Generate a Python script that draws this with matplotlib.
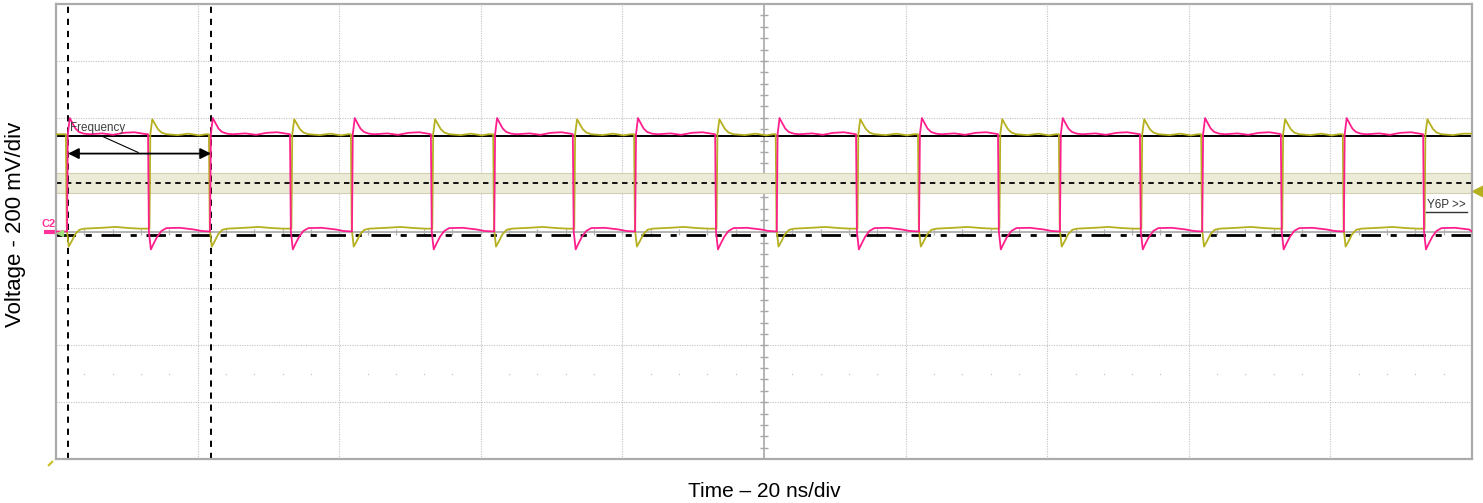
import numpy as np
import matplotlib
matplotlib.use("Agg")
import matplotlib.pyplot as plt

plt.rcParams['font.family'] = ['Liberation Sans', 'DejaVu Sans']

# 时间 ns, 电压 mV (200 mV/div, 20 ns/div)
pink_rise_ns = [1.55, 21.75, 41.8, 61.9, 81.8, 101.8, 121.9, 141.8, 161.9, 181.9]
pink_fall_ns = [13.0, 33.05, 52.95, 73.0, 93.1, 113.0, 133.05, 153.1, 173.0, 193.1]
yel_rise_ns = [13.2, 33.25, 53.15, 73.2, 93.3, 113.2, 133.25, 153.3, 173.2, 193.3]
yel_fall_ns = [1.4, 21.6, 41.65, 61.75, 81.65, 101.65, 121.75, 141.65, 161.75, 181.75]

pink_hi, pink_lo = 342, 0
yel_hi, yel_lo = 342, 10

# 边沿形状 (相对时间 ns, 相对新电平 mV)
pink_rise_shape = [(0.12, 0), (0.4, 57), (0.8, 38), (1.2, 20), (1.7, 8), (2.4, 2), (3.2, 0),
                   (5.0, 3), (6.5, -2), (8.0, 5), (9.5, 7), (11.0, 1)]
pink_fall_shape = [(0.12, 0), (0.4, -63), (0.8, -42), (1.3, -18), (1.9, 2), (2.6, 12),
                   (4.5, 13), (6.5, 7), (7.5, 2)]
yel_rise_shape = [(0.12, 0), (0.4, 53), (0.8, 35), (1.2, 18), (1.7, 6), (2.4, 0),
                  (4.0, -3), (5.5, 2), (7.0, -4), (8.0, 0)]
yel_fall_shape = [(0.12, 0), (0.4, -63), (0.8, -45), (1.3, -20), (1.9, -4), (2.6, 0),
                  (5.0, 3), (7.0, 6), (9.0, 2), (10.5, 0)]

hi_ref = 335        # 黑色实线
lo_ref = -12        # 点划线
mid_ref = 169       # 虚线
band = (134, 207)   # 阴影带
cursors = [1.7, 21.9]
arrow_v = 274


def build(rises, falls, lo, hi, start_hi, rshape, fshape):
    edges = sorted([(t, 'r') for t in rises] + [(t, 'f') for t in falls])
    ts = [0.0]
    vs = [hi if start_hi else lo]
    for i, (te, kind) in enumerate(edges):
        t_next = edges[i + 1][0] if i + 1 < len(edges) else 200.0
        old, new, shape = (lo, hi, rshape) if kind == 'r' else (hi, lo, fshape)
        ts.append(te)
        vs.append(old)
        for dt, dv in shape:
            if te + dt < t_next:
                ts.append(te + dt)
                vs.append(new + dv)
    ts.append(200.0)
    vs.append(vs[-1] if edges[-1][1] == 'r' else lo)
    return ts, vs


fig = plt.figure(figsize=(14.83, 5.03), dpi=100)
ax = fig.add_axes([56 / 1483, 1 - 459 / 503, (1472 - 56) / 1483, (459 - 4) / 503])
ax.set_xlim(0, 200)
ax.set_ylim(-800, 800)
ax.set_xticks([])
ax.set_yticks([])
for s in ax.spines.values():
    s.set_color('#ababab')
    s.set_linewidth(1.6)

# 网格
for x in range(20, 200, 20):
    if x != 100:
        ax.axvline(x, color='#c2c2c2', lw=0.8, ls=(0, (1, 1.2)), zorder=0.5)
for y in [-600, -400, -200, 200, 400, 600]:
    ax.axhline(y, color='#c2c2c2', lw=0.8, ls=(0, (1, 1.2)), zorder=0.5)
ax.axvline(100, color='#a8a8a8', lw=1.2, zorder=0.6)
ax.axhline(0, color='#a8a8a8', lw=1.2, zorder=0.6)
yt = np.arange(-760, 800, 40)
ax.plot(np.full(len(yt), 100), yt, ls='none', marker='_', ms=6, mew=1.0, color='#a8a8a8', zorder=0.6)
xt = np.arange(4, 200, 4)
ax.plot(xt, np.zeros(len(xt)), ls='none', marker='|', ms=5, mew=0.9, color='#b0b0b0', zorder=0.6)
xd = [x for x in xt if x % 20 != 0]
ax.plot(xd, np.full(len(xd), -500), ls='none', marker='s', ms=0.9, mew=0, color='#c4c4c4', zorder=0.6)

# 阴影带和参考线
ax.axhspan(band[0], band[1], facecolor='#ecebd8', edgecolor='#d2d0b0', lw=0.8, zorder=1)
ax.axhline(mid_ref, color='black', lw=1.3, ls=(0, (3, 2.5)), zorder=2)
ax.axhline(hi_ref, color='black', lw=1.4, zorder=2.5)
ax.axhline(lo_ref, color='black', lw=2.0, ls=(0, (7, 3.5, 2.2, 3.5)), zorder=2.5)
for c in cursors:
    ax.axvline(c, color='black', lw=1.4, ls=(0, (3.2, 3)), zorder=2)

# 波形
yt_t, yt_v = build(yel_rise_ns, yel_fall_ns, yel_lo, yel_hi, True, yel_rise_shape, yel_fall_shape)
pk_t, pk_v = build(pink_rise_ns, pink_fall_ns, pink_lo, pink_hi, False, pink_rise_shape, pink_fall_shape)
ax.plot(yt_t, yt_v, color='#b5b020', lw=1.3, zorder=3)
ax.plot(pk_t, pk_v, color='#ff1f8c', lw=1.3, zorder=4)

# 频率测量标注
ax.annotate('', xy=(cursors[0], arrow_v), xytext=(cursors[1], arrow_v),
            arrowprops=dict(arrowstyle='<|-|>', color='black', lw=1.3,
                            mutation_scale=16, shrinkA=0, shrinkB=0), zorder=5)
ax.text(2.0, 355, 'Frequency', fontsize=8.4, color='#404040', ha='left', va='baseline', zorder=5)
ax.plot([6.6, 11.6], [334, 278], color='black', lw=0.8, zorder=5)

ax.text(193.6, 84, 'Y6P >>', fontsize=8.4, color='#333333', ha='left', va='baseline', zorder=5)
ax.plot([193.5, 199.3], [70, 70], color='#333333', lw=1.0, zorder=5)

# 左右标记
ax.text(-2.0, 17, 'C2', fontsize=8, color='#ff3399', fontweight='bold', ha='left',
        va='baseline', clip_on=False)
ax.plot([-1.7, 0], [0, 0], color='#ff3399', lw=3, clip_on=False, solid_capstyle='butt')
ax.plot([0.5], [-6], marker='<', ms=5, color='#9ee07a', clip_on=False, zorder=6)
ax.plot([200.85], [144], marker='<', ms=8, color='#b5b020', clip_on=False)
ax.plot([-0.8], [-815], marker=(2, 0, -45), ms=5, mew=1.5, color='#c8c020', clip_on=False)

fig.text(16 / 1483, 1 - 224 / 503, 'Voltage - 200 mV/div', rotation=90, fontsize=16,
         ha='center', va='center')
fig.text(764 / 1483, 1 - 497 / 503, 'Time – 20 ns/div', fontsize=15, ha='center', va='baseline')

fig.savefig('out.png', dpi=100)
